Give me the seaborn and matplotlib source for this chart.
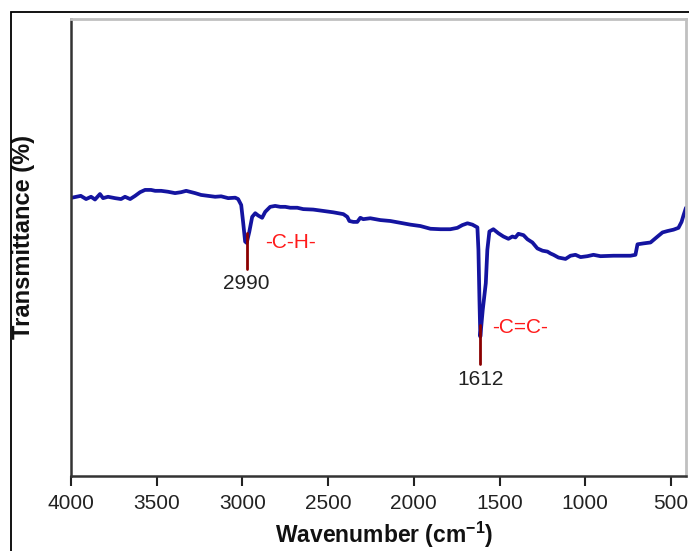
import matplotlib
matplotlib.use("Agg")
import matplotlib.pyplot as plt
import matplotlib.patches as mpatches
import seaborn as sns
import pandas as pd

# FTIR spectrum
wavenumber = [3994, 3943, 3912, 3883, 3860, 3831, 3813, 3784, 3743, 3708, 3685, 3655,
              3626, 3597, 3568, 3533, 3509, 3474, 3434, 3393, 3358, 3328, 3276, 3241,
              3200, 3159, 3124, 3083, 3042, 3025, 3007, 2996, 2984, 2975, 2960, 2943,
              2925, 2908, 2885, 2867, 2838, 2809, 2779, 2750, 2721, 2680, 2645, 2587,
              2528, 2470, 2411, 2388, 2376, 2353, 2330, 2312, 2295, 2254, 2195, 2137,
              2078, 2020, 1962, 1903, 1845, 1787, 1746, 1717, 1687, 1658, 1629, 1623,
              1617, 1612, 1598, 1580, 1571, 1559, 1536, 1506, 1477, 1448, 1425, 1407,
              1390, 1360, 1337, 1308, 1279, 1249, 1220, 1203, 1185, 1156, 1115, 1086,
              1057, 1027, 987, 952, 911, 835, 736, 707, 695, 660, 619, 578, 549, 520,
              485, 456, 438, 426, 412]
transmittance = [60.9, 61.3, 60.6, 61.1, 60.5, 61.7, 60.8, 61.1, 60.8, 60.6, 61.1, 60.6,
                 61.3, 62.1, 62.6, 62.6, 62.4, 62.4, 62.2, 61.9, 62.1, 62.4, 61.9, 61.5,
                 61.3, 61.1, 61.2, 60.8, 60.9, 60.6, 59.3, 55.6, 51.3, 51.0, 53.4, 56.7,
                 57.5, 57.0, 56.5, 57.8, 58.9, 59.1, 58.9, 58.9, 58.7, 58.7, 58.4, 58.3,
                 58.0, 57.7, 57.3, 56.7, 55.8, 55.6, 55.6, 56.5, 56.2, 56.4, 56.0, 55.8,
                 55.4, 55.0, 54.7, 54.1, 54.0, 54.0, 54.3, 54.9, 55.3, 55.0, 54.4, 49.5,
                 38.5, 30.5, 36.3, 42.2, 49.5, 53.5, 54.0, 53.1, 52.4, 51.9, 52.4, 52.2,
                 53.0, 52.7, 51.8, 51.1, 49.8, 49.3, 49.1, 48.7, 48.4, 47.8, 47.5, 48.2,
                 48.4, 47.9, 48.1, 48.4, 48.1, 48.2, 48.2, 48.4, 50.7, 50.9, 51.1, 52.4,
                 53.3, 53.6, 53.9, 54.3, 55.6, 57.1, 58.7]

# Peak annotations
peak_positions = [2975, 1612]
peak_labels = ["2990", "1612"]
peak_line_top = [53.2, 33.0]
peak_line_bottom = [45.3, 24.5]
group_labels = ["-C-H-", "-C=C-"]
group_x = [2870, 1545]
group_y = [51.2, 32.4]

x_ticks = [4000, 3500, 3000, 2500, 2000, 1500, 1000, 500]

sns.set_style("white")
plt.rcParams["font.family"] = ["Liberation Sans", "DejaVu Sans"]
plt.rcParams["mathtext.fontset"] = "custom"
plt.rcParams["mathtext.bf"] = "Liberation Sans:bold"
plt.rcParams["mathtext.rm"] = "Liberation Sans"

df = pd.DataFrame({"wn": wavenumber, "T": transmittance})

fig = plt.figure(figsize=(6.89, 5.51), dpi=100)
ax = fig.add_axes([71 / 689, 75 / 551, 615 / 689, 457 / 551])

sns.lineplot(data=df, x="wn", y="T", ax=ax, color="#1414a0", linewidth=2.7,
             estimator=None, sort=False)

ax.set_xlim(4000, 412)
ax.set_ylim(0, 100)
ax.set_xticks(x_ticks)
ax.set_xticklabels([str(t) for t in x_ticks])
ax.set_yticks([])
ax.tick_params(axis="x", direction="out", length=7, width=1.5, colors="#222222",
               labelsize=15, pad=6, bottom=True)

for s in ["left", "bottom"]:
    ax.spines[s].set_color("#333333")
    ax.spines[s].set_linewidth(1.8)
for s in ["top", "right"]:
    ax.spines[s].set_color("#c0c0c0")
    ax.spines[s].set_linewidth(2.0)

ax.set_xlabel("Wavenumber (cm$^{\\mathbf{-1}}$)", fontsize=16.5, fontweight="bold",
              color="#111111")
ax.xaxis.set_label_coords(0.51, -0.095)
ax.set_ylabel("Transmittance (%)", fontsize=17, fontweight="bold",
              color="#111111")
ax.yaxis.set_label_coords(-0.058, 0.523)

for xp, lab, yt, yb, grp, gx, gy in zip(peak_positions, peak_labels, peak_line_top,
                                        peak_line_bottom, group_labels, group_x, group_y):
    ax.plot([xp, xp], [yt, yb], color="#8b0000", linewidth=2.0, zorder=3)
    ax.text(xp, yb - 1.2, lab, ha="center", va="top", fontsize=15, color="#222222")
    ax.text(gx, gy, grp, ha="left", va="center", fontsize=15, color="#ff1a1a")

# figure frame
frame = mpatches.Rectangle((10.5 / 689, -0.1), 1.2, 1 - 12 / 551 + 0.1,
                           transform=fig.transFigure, fill=False,
                           edgecolor="black", linewidth=1.3)
fig.patches.append(frame)

fig.savefig("out.png", dpi=100)
